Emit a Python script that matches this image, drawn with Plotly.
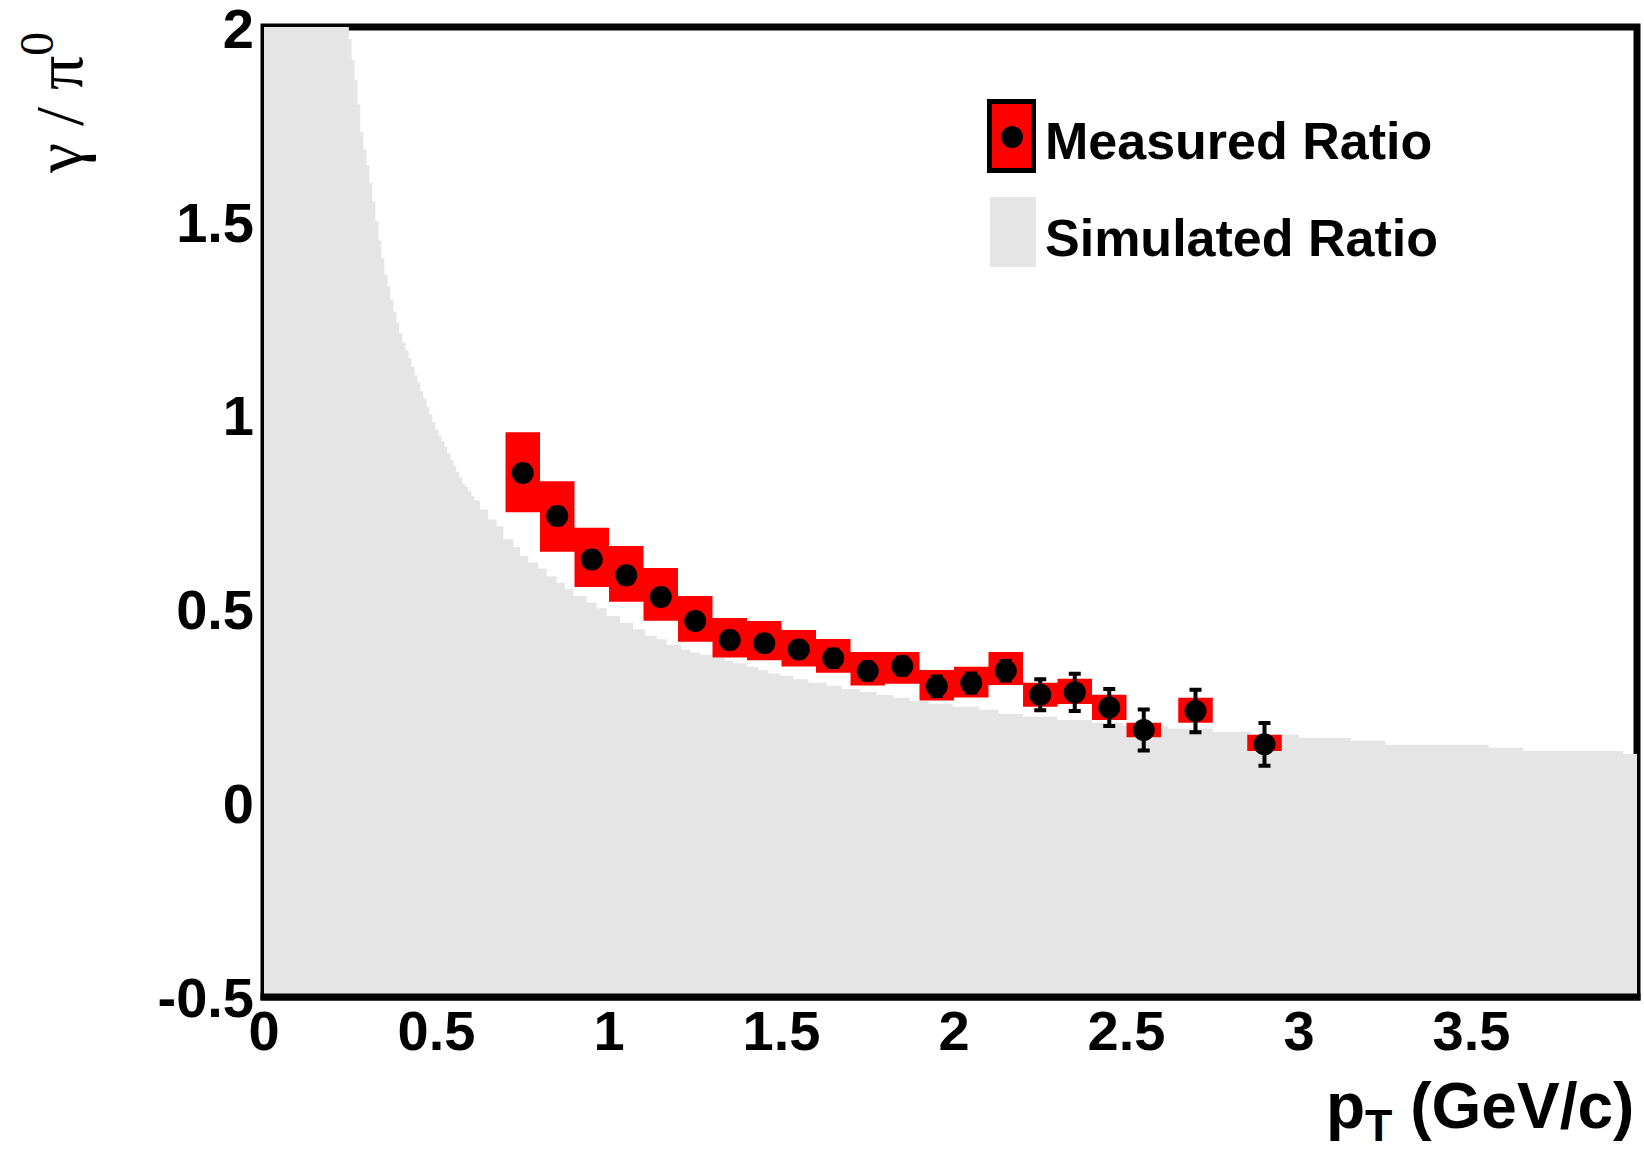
import plotly.graph_objects as go

# ---------------- data ----------------
# simulated ratio histogram: left bin edges and bin contents
sim_left = [0.000, 0.246, 0.254, 0.262, 0.271, 0.279, 0.288, 0.297, 0.305, 0.314,
            0.323, 0.332, 0.340, 0.349, 0.358, 0.366, 0.375, 0.384, 0.392, 0.401,
            0.410, 0.419, 0.427, 0.436, 0.445, 0.453, 0.462, 0.471, 0.479, 0.488,
            0.497, 0.505, 0.514, 0.523, 0.531, 0.540, 0.549, 0.557, 0.566, 0.575,
            0.584, 0.592, 0.601, 0.610, 0.626, 0.650, 0.674, 0.694, 0.723, 0.742,
            0.766, 0.795, 0.819, 0.848, 0.872, 0.897, 0.935, 0.964, 0.993, 1.032,
            1.070, 1.104, 1.138, 1.167, 1.210, 1.235, 1.264, 1.302, 1.336, 1.360,
            1.399, 1.433, 1.462, 1.496, 1.534, 1.578, 1.631, 1.674, 1.728, 1.776,
            1.824, 1.872, 1.926, 1.996, 2.074, 2.129, 2.200, 2.300, 2.400, 2.490,
            2.620, 2.750, 2.860, 3.000, 3.150, 3.250, 3.550, 3.650, 3.940]
sim_vals = [2.600, 1.972, 1.918, 1.866, 1.803, 1.733, 1.686, 1.647, 1.600, 1.553,
            1.501, 1.452, 1.407, 1.364, 1.334, 1.299, 1.269, 1.239, 1.213, 1.190,
            1.168, 1.149, 1.126, 1.104, 1.085, 1.063, 1.044, 1.022, 1.003, 0.984,
            0.964, 0.949, 0.934, 0.919, 0.903, 0.887, 0.870, 0.855, 0.840, 0.824,
            0.816, 0.805, 0.793, 0.782, 0.758, 0.732, 0.715, 0.681, 0.661, 0.638,
            0.621, 0.606, 0.586, 0.569, 0.552, 0.535, 0.518, 0.503, 0.483, 0.466,
            0.449, 0.432, 0.423, 0.409, 0.397, 0.389, 0.383, 0.376, 0.367, 0.361,
            0.352, 0.343, 0.335, 0.329, 0.320, 0.311, 0.303, 0.294, 0.287, 0.279,
            0.272, 0.264, 0.257, 0.249, 0.241, 0.231, 0.223, 0.215, 0.208, 0.200,
            0.193, 0.184, 0.177, 0.169, 0.161, 0.151, 0.143, 0.135, 0.127]
sim_xmax = 4.0

# measured ratio
meas_pt = [0.75, 0.85, 0.95, 1.05, 1.15, 1.25, 1.35, 1.45, 1.55, 1.65, 1.75,
           1.85, 1.95, 2.05, 2.15, 2.25, 2.35, 2.45, 2.55, 2.70, 2.90]
meas_ratio = [0.852, 0.741, 0.629, 0.588, 0.532, 0.470, 0.421, 0.413, 0.397, 0.374, 0.341,
              0.354, 0.302, 0.310, 0.342, 0.280, 0.286, 0.247, 0.189, 0.238, 0.152]
meas_stat = [0.020, 0.020, 0.020, 0.020, 0.020, 0.020, 0.020, 0.020, 0.020, 0.022, 0.022,
             0.022, 0.025, 0.025, 0.025, 0.040, 0.048, 0.048, 0.053, 0.055, 0.055]
meas_sys_lo = [0.751, 0.649, 0.558, 0.520, 0.471, 0.417, 0.376, 0.369, 0.353, 0.337, 0.304,
               0.308, 0.265, 0.273, 0.305, 0.249, 0.256, 0.215, 0.170, 0.208, 0.135]
meas_sys_hi = [0.957, 0.831, 0.711, 0.664, 0.607, 0.535, 0.478, 0.470, 0.447, 0.424, 0.390,
               0.390, 0.344, 0.352, 0.390, 0.311, 0.321, 0.280, 0.208, 0.272, 0.177]
sys_box_width = 0.1

x_ticks = [0, 0.5, 1, 1.5, 2, 2.5, 3, 3.5]
x_ticktext = ["0", "0.5", "1", "1.5", "2", "2.5", "3", "3.5"]
y_ticks = [-0.5, 0, 0.5, 1, 1.5, 2]
y_ticktext = ["-0.5", "0", "0.5", "1", "1.5", "2"]

# ---------------- layout geometry ----------------
W, H = 1644, 1159
ML, MR, MT, MB = 264, 7, 27, 162
PW, PH = W - ML - MR, H - MT - MB
X_RANGE = [0, PW / 345.0]
Y_RANGE = [-0.5, 2.003]


def px(xp):
    return (xp - ML) / PW


def py(yp):
    return (H - MB - yp) / PH


GREY = "#e5e5e5"
FONT = "Liberation Sans, Arial, Helvetica, sans-serif"

fig = go.Figure()

# baseline for the filled histogram
fig.add_trace(go.Scatter(x=[0, sim_xmax], y=[Y_RANGE[0], Y_RANGE[0]], mode="lines",
                         line=dict(width=0, color=GREY), showlegend=False, hoverinfo="skip"))
fig.add_trace(go.Scatter(x=sim_left + [sim_xmax], y=sim_vals + [sim_vals[-1]], mode="lines",
                         line=dict(width=0, color=GREY, shape="hv"), fill="tonexty",
                         fillcolor=GREY, showlegend=False, name="Simulated Ratio"))

# systematic boxes (closed rectangles built from the data arrays)
box_x, box_y = [], []
half = sys_box_width / 2
for xc, lo, hi in zip(meas_pt, meas_sys_lo, meas_sys_hi):
    box_x += [xc - half, xc + half, xc + half, xc - half, xc - half, None]
    box_y += [lo, lo, hi, hi, lo, None]
fig.add_trace(go.Scatter(x=box_x, y=box_y, mode="lines", fill="toself",
                         fillcolor="#ff0000", line=dict(width=0, color="#ff0000"),
                         showlegend=False, name="sys", hoverinfo="skip"))

# measured points
fig.add_trace(go.Scatter(x=meas_pt, y=meas_ratio, mode="markers",
                         marker=dict(color="black", size=22, symbol="circle"),
                         error_y=dict(type="data", array=meas_stat, color="black",
                                      thickness=4, width=6),
                         showlegend=False, name="Measured Ratio"))

shapes = [
    dict(type="rect", xref="paper", yref="paper", x0=0, x1=1, y0=0, y1=1,
         line=dict(color="black", width=7), layer="below"),
    dict(type="line", xref="paper", yref="paper", x0=px(ML - 3.5), x1=px(W - MR + 3.5),
         y0=0, y1=0, line=dict(color="black", width=7), layer="above"),
    # legend: measured
    dict(type="rect", xref="paper", yref="paper", x0=px(989.5), x1=px(1033.5),
         y0=py(170.5), y1=py(101.5), fillcolor="#ff0000",
         line=dict(color="black", width=5), layer="above"),
    dict(type="circle", xref="paper", yref="paper", x0=px(1001), x1=px(1023),
         y0=py(148), y1=py(126), fillcolor="black", line=dict(color="black", width=0),
         layer="above"),
    # legend: simulated
    dict(type="rect", xref="paper", yref="paper", x0=px(990), x1=px(1036),
         y0=py(267), y1=py(197), fillcolor=GREY, line=dict(width=0), layer="above"),
]

annotations = [
    dict(text="Measured Ratio", xref="paper", yref="paper", x=px(1043), y=py(141),
         xanchor="left", yanchor="middle", showarrow=False,
         font=dict(family=FONT, size=52, color="black", weight="bold")),
    dict(text="Simulated Ratio", xref="paper", yref="paper", x=px(1043), y=py(238),
         xanchor="left", yanchor="middle", showarrow=False,
         font=dict(family=FONT, size=52, color="black", weight="bold")),
    dict(text="p<sub>T</sub> (GeV/c)", xref="paper", yref="paper", x=px(1636), y=py(1110),
         xanchor="right", yanchor="middle", showarrow=False,
         font=dict(family=FONT, size=64, color="black", weight="bold")),
    dict(text="γ / π<sup>0</sup>", xref="paper", yref="paper", x=px(54), y=py(30),
         xanchor="center", yanchor="top", textangle=-90, showarrow=False,
         font=dict(family="Liberation Serif, Times New Roman, serif", size=68, color="black")),
]

fig.update_layout(
    width=W, height=H, margin=dict(l=ML, r=MR, t=MT, b=MB, pad=0, autoexpand=False),
    paper_bgcolor="white", plot_bgcolor="white",
    showlegend=False,
    shapes=shapes, annotations=annotations,
    xaxis=dict(range=X_RANGE, showgrid=False, zeroline=False, showline=False,
               tickvals=x_ticks, ticktext=x_ticktext, ticks="", ticklabelstandoff=-4,
               ticklabeloverflow="allow", automargin=False,
               tickfont=dict(family=FONT, size=56, color="black", weight="bold")),
    yaxis=dict(range=Y_RANGE, showgrid=False, zeroline=False, showline=False,
               tickvals=y_ticks, ticktext=y_ticktext, ticks="", ticklabelstandoff=9,
               ticklabeloverflow="allow", automargin=False,
               tickfont=dict(family=FONT, size=56, color="black", weight="bold")),
)

fig.write_html("out.html")
